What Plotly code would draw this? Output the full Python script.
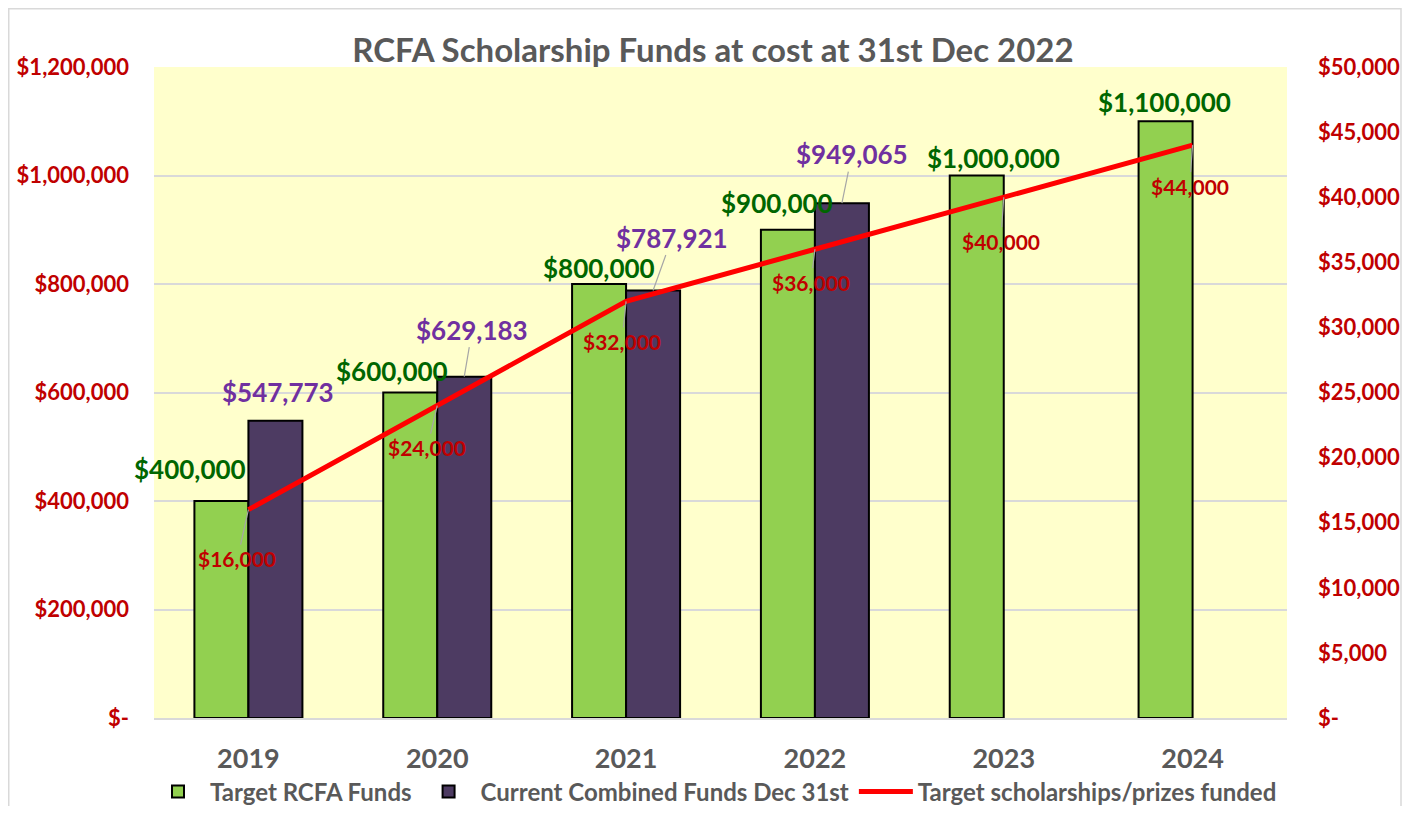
import plotly.graph_objects as go

years = ["2019", "2020", "2021", "2022", "2023", "2024"]
target_funds = [400000, 600000, 800000, 900000, 1000000, 1100000]
current_years = ["2019", "2020", "2021", "2022"]
current_funds = [547773, 629183, 787921, 949065]
target_scholarships = [16000, 24000, 32000, 36000, 40000, 44000]

left_tickvals = [0, 200000, 400000, 600000, 800000, 1000000, 1200000]
left_ticktext = ["$-", "$200,000", "$400,000", "$600,000", "$800,000", "$1,000,000", "$1,200,000"]
right_tickvals = [0, 5000, 10000, 15000, 20000, 25000, 30000, 35000, 40000, 45000, 50000]
right_ticktext = ["$-", "$5,000", "$10,000", "$15,000", "$20,000", "$25,000", "$30,000",
                  "$35,000", "$40,000", "$45,000", "$50,000"]

# label offsets (pixels) - styling only
green_off = [(-31, -32, False), (-18, -22, False), (0, -16, False), (-11, -27, False), (17, -18, False), (-1, -19, False)]
purple_off = [(3, -29, False), (8, -47, True), (19, -53, True), (10, -49, True)]
red_off = [(-11, 49, True), (-10, 42, True), (-4, 40, True), (-4, 33, True), (-3, 44, True), (-3, 41, True)]

FONT = "Lato"
GRAY = "#595959"
RED = "#C00000"
GREEN_TXT = "#006600"
PURPLE_TXT = "#7030A0"
LEADER = "#A6A6A6"

W, H = 1394, 798
L, R, T, B = 146, 115, 59, 88
PW, PH = W - L - R, H - T - B

fig = go.Figure()
fig.add_trace(go.Bar(x=years, y=target_funds, name="Target RCFA Funds",
                     marker=dict(color="#92D050", line=dict(color="black", width=2))))
fig.add_trace(go.Bar(x=current_years, y=current_funds, name="Current Combined Funds Dec 31st",
                     marker=dict(color="#4D3B62", line=dict(color="black", width=2))))
fig.add_trace(go.Scatter(x=years, y=target_scholarships, name="Target scholarships/prizes funded",
                         mode="lines", line=dict(color="#FF0000", width=5), yaxis="y2"))

def fmt(v):
    return "${:,.0f}".format(v)

annotations = []
for i, (v, (ax, ay, ln)) in enumerate(zip(target_funds, green_off)):
    annotations.append(dict(x=i, y=v, xref="x", yref="y", xshift=-27, ax=ax, ay=ay,
                            text=fmt(v), showarrow=True, arrowhead=0, arrowwidth=1.2,
                            arrowcolor=LEADER if ln else "rgba(0,0,0,0)", standoff=0,
                            font=dict(family=FONT, size=26, color=GREEN_TXT, weight="bold")))
for i, (v, (ax, ay, ln)) in enumerate(zip(current_funds, purple_off)):
    annotations.append(dict(x=i, y=v, xref="x", yref="y", xshift=27, ax=ax, ay=ay,
                            text=fmt(v), showarrow=True, arrowhead=0, arrowwidth=1.2,
                            arrowcolor=LEADER if ln else "rgba(0,0,0,0)", standoff=0,
                            font=dict(family=FONT, size=26, color=PURPLE_TXT, weight="bold")))
for i, (v, (ax, ay, ln)) in enumerate(zip(target_scholarships, red_off)):
    annotations.append(dict(x=i, y=v, xref="x", yref="y2", ax=ax, ay=ay,
                            text=fmt(v), showarrow=True, arrowhead=0, arrowwidth=1.2,
                            arrowcolor=LEADER if ln else "rgba(0,0,0,0)", standoff=0,
                            font=dict(family=FONT, size=21, color=RED, weight="bold")))

fig.update_layout(
    width=W, height=H,
    margin=dict(l=L, r=R, t=T, b=B, autoexpand=False),
    paper_bgcolor="white",
    plot_bgcolor="#FFFFCC",
    barmode="group", bargap=0.428, bargroupgap=0,
    title=dict(text="RCFA Scholarship Funds at cost at 31st Dec 2022",
               x=0.5 + 8 / W, xanchor="center", xref="container", y=1 - 42 / H, yanchor="middle",
               font=dict(family=FONT, size=33, color=GRAY, weight="bold")),
    xaxis=dict(type="category", range=[-0.5, 5.5], autorange=False,
               showgrid=False, showline=True, linecolor="#D9D9D9", linewidth=2,
               ticks="", ticklabelstandoff=16,
               tickfont=dict(family=FONT, size=27, color=GRAY, weight="bold")),
    yaxis=dict(range=[0, 1200000], tickvals=left_tickvals, ticktext=left_ticktext,
               showgrid=True, gridcolor="#D9D9D9", gridwidth=1.5, zeroline=False,
               ticks="", ticklabelstandoff=24,
               tickfont=dict(family=FONT, size=22, color=RED, weight="bold")),
    yaxis2=dict(range=[0, 50000], tickvals=right_tickvals, ticktext=right_ticktext,
                overlaying="y", side="right", showgrid=False, zeroline=False,
                ticks="", ticklabelstandoff=30,
                tickfont=dict(family=FONT, size=22, color=RED, weight="bold")),
    legend=dict(orientation="h", x=(706 - L) / PW, xanchor="center", y=(PH + T - 784) / PH,
                yanchor="middle",
                font=dict(family=FONT, size=24, color=GRAY, weight="bold"),
                itemwidth=54, traceorder="normal", bgcolor="rgba(0,0,0,0)"),
    annotations=annotations,
    shapes=[dict(type="rect", xref="paper", yref="paper",
                 x0=(0.75 - L) / PW, x1=(W - 1 - L) / PW,
                 y0=(PH + T - (H + 10)) / PH, y1=(PH + T - 0.75) / PH,
                 line=dict(color="#D9D9D9", width=1.5), fillcolor="rgba(0,0,0,0)", layer="below")],
)

fig.write_html("out.html")
